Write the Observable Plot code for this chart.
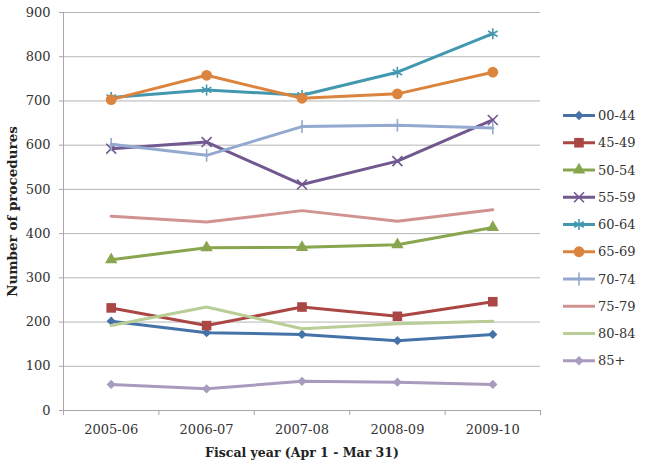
<!DOCTYPE html>
<html><head><meta charset="utf-8">
<script src="https://cdn.jsdelivr.net/npm/d3@7"></script>
<script src="https://cdn.jsdelivr.net/npm/@observablehq/plot@0.6"></script>
<style>
body{margin:0;background:#fff;font-family:"DejaVu Serif",serif;}
#wrap{position:relative;width:648px;height:470px;}
#wrap svg.legend{position:absolute;left:0;top:0;}
</style>
</head><body><div id="wrap"></div>
<script>
const years = ["2005-06","2006-07","2007-08","2008-09","2009-10"];
const groups = ["00-44","45-49","50-54","55-59","60-64","65-69","70-74","75-79","80-84","85+"];
const colors = ["#4572A7","#AA4643","#89A54E","#71588F","#4198AF","#DB843D","#93A9CF","#D19392","#B9CD96","#A99BBD"];
const markers = ["diamond2","square","triangle","times","asterisk","circle","vtick",null,null,"diamond2"];
const v0044 = [202,176,172,158,172];
const v4549 = [232,192,234,213,246];
const v5054 = [341,368,369,375,414];
const v5559 = [592,607,511,564,657];
const v6064 = [708,725,713,765,852];
const v6569 = [703,758,706,716,765];
const v7074 = [602,577,642,645,639];
const v7579 = [439,426,452,428,454];
const v8084 = [192,234,185,196,202];
const v85   = [59,49,66,64,59];
const series = [v0044,v4549,v5054,v5559,v6064,v6569,v7074,v7579,v8084,v85];
const yTicks = [0,100,200,300,400,500,600,700,800,900];

const vtick = {draw(ctx, size){ const h = Math.sqrt(size) * 0.8; ctx.moveTo(0,-h); ctx.lineTo(0,h); }};
const filled = {diamond2:true, square:true, triangle:true, circle:true, times:false, asterisk:false, vtick:false};
const radius = {diamond2:4.2, square:5.4, triangle:4.6, circle:5.4, times:4.6, asterisk:5.2, vtick:4.5};
const symFor = m => m === "vtick" ? vtick : m;

const rows = groups.flatMap((g, gi) => series[gi].map((v, i) => ({group: g, gi, xi: i + 0.5, value: v})));

const marks = [
  Plot.gridY(yTicks, {stroke:"#b5b5b5", strokeOpacity:1, strokeWidth:1}),
  Plot.ruleX([0], {stroke:"#a8a8a8", y1:0, y2:900}),
  Plot.ruleY([0], {stroke:"#a8a8a8"}),
  Plot.axisY({ticks: yTicks, tickSize:4, tickPadding:9, label:null, stroke:"#a8a8a8", fill:"#333"}),
  Plot.axisX({ticks:[0,1,2,3,4,5], tickSize:5, tickFormat:()=>"", label:null, stroke:"#a8a8a8"}),
  Plot.axisX({ticks:[0.5,1.5,2.5,3.5,4.5], tickSize:0, tickPadding:14, tickFormat:d=>years[Math.round(d-0.5)], label:null, fill:"#333"}),
];
groups.forEach((g, gi) => {
  const d = rows.filter(r => r.gi === gi);
  marks.push(Plot.line(d, {x:"xi", y:"value", stroke: colors[gi], strokeWidth:3}));
  const m = markers[gi];
  if (m) {
    const opts = {x:"xi", y:"value", symbol: symFor(m), r: radius[m]};
    if (filled[m]) { opts.fill = colors[gi]; opts.stroke = "none"; }
    else { opts.stroke = colors[gi]; opts.strokeWidth = 1.6; opts.fill = "none"; }
    marks.push(Plot.dot(d, opts));
  }
});
marks.push(Plot.text(["Number of procedures"], {text:d=>d, frameAnchor:"left", textAnchor:"middle", rotate:-90, dx:-51, fontWeight:"bold", fontSize:13.5, fill:"#222"}));
marks.push(Plot.text(["Fiscal year (Apr 1 - Mar 31)"], {text:d=>d, frameAnchor:"bottom", dy:46, fontWeight:"bold", fontSize:12.5, fill:"#222"}));

const chart = Plot.plot({
  width:648, height:470,
  marginLeft:63, marginRight:108, marginTop:12, marginBottom:60,
  x:{type:"linear", domain:[0,5]},
  y:{domain:[0,900]},
  style:{fontFamily:"DejaVu Serif", fontSize:"13px", background:"#fff", color:"#333"},
  marks
});
const wrap = document.getElementById("wrap");
wrap.appendChild(chart);

// legend
const lg = d3.select(wrap).append("svg").attr("class","legend").attr("width",648).attr("height",470)
  .style("font-family","DejaVu Serif").style("font-size","13px");
const d3sym = {diamond2:d3.symbolDiamond2, square:d3.symbolSquare, triangle:d3.symbolTriangle, circle:d3.symbolCircle, times:d3.symbolTimes, asterisk:d3.symbolAsterisk, vtick:vtick};
groups.forEach((g, gi) => {
  const y = 115.5 + gi * 27.25;
  const it = lg.append("g").attr("transform", `translate(0,${y})`);
  it.append("line").attr("x1",563).attr("x2",595).attr("y1",0).attr("y2",0).attr("stroke",colors[gi]).attr("stroke-width",3);
  const m = markers[gi];
  if (m) {
    const p = d3.symbol(d3sym[m], Math.PI * radius[m] * radius[m])();
    const s = it.append("path").attr("d", p).attr("transform","translate(579,0)");
    if (filled[m]) s.attr("fill", colors[gi]);
    else s.attr("fill","none").attr("stroke",colors[gi]).attr("stroke-width",1.6);
  }
  it.append("text").attr("x",598).attr("y",0).attr("dy","0.35em").attr("fill","#333").text(g);
});
</script>
</body></html>
